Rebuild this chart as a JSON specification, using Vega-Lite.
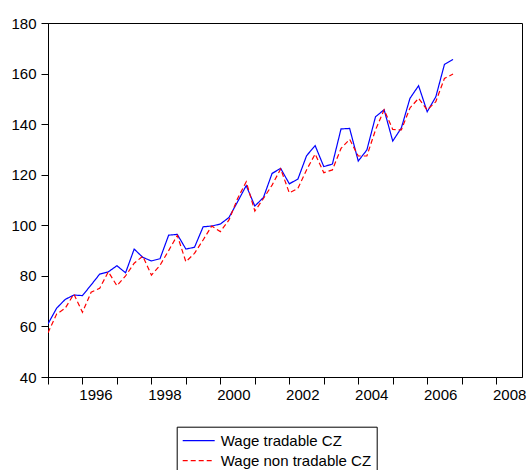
{
  "$schema": "https://vega.github.io/schema/vega-lite/v6.json",
  "width": 474,
  "height": 354,
  "autosize": "none",
  "padding": {"left": 48, "top": 23, "right": 7, "bottom": 93},
  "background": "white",
  "config": {
    "view": {"stroke": "black", "strokeWidth": 1},
    "font": "Liberation Sans",
    "axis": {"labelFont": "Liberation Sans", "labelFontSize": 15, "labelColor": "black", "domainColor": "black", "tickColor": "black", "grid": false, "title": null}
  },
  "data": {
    "values": [
      {"t": 1995.00, "Wage tradable CZ": 61.0, "Wage non tradable CZ": 57.5},
      {"t": 1995.25, "Wage tradable CZ": 67.2, "Wage non tradable CZ": 64.9},
      {"t": 1995.50, "Wage tradable CZ": 70.7, "Wage non tradable CZ": 67.2},
      {"t": 1995.75, "Wage tradable CZ": 72.4, "Wage non tradable CZ": 72.8},
      {"t": 1996.00, "Wage tradable CZ": 72.2, "Wage non tradable CZ": 65.6},
      {"t": 1996.25, "Wage tradable CZ": 76.4, "Wage non tradable CZ": 73.5},
      {"t": 1996.50, "Wage tradable CZ": 80.7, "Wage non tradable CZ": 75.1},
      {"t": 1996.75, "Wage tradable CZ": 81.6, "Wage non tradable CZ": 81.6},
      {"t": 1997.00, "Wage tradable CZ": 84.0, "Wage non tradable CZ": 76.1},
      {"t": 1997.25, "Wage tradable CZ": 81.2, "Wage non tradable CZ": 80.0},
      {"t": 1997.50, "Wage tradable CZ": 90.6, "Wage non tradable CZ": 85.0},
      {"t": 1997.75, "Wage tradable CZ": 87.3, "Wage non tradable CZ": 87.8},
      {"t": 1998.00, "Wage tradable CZ": 85.9, "Wage non tradable CZ": 80.3},
      {"t": 1998.25, "Wage tradable CZ": 86.8, "Wage non tradable CZ": 84.2},
      {"t": 1998.50, "Wage tradable CZ": 96.1, "Wage non tradable CZ": 90.0},
      {"t": 1998.75, "Wage tradable CZ": 96.4, "Wage non tradable CZ": 96.0},
      {"t": 1999.00, "Wage tradable CZ": 90.6, "Wage non tradable CZ": 85.6},
      {"t": 1999.25, "Wage tradable CZ": 91.3, "Wage non tradable CZ": 88.9},
      {"t": 1999.50, "Wage tradable CZ": 99.4, "Wage non tradable CZ": 94.2},
      {"t": 1999.75, "Wage tradable CZ": 99.7, "Wage non tradable CZ": 99.7},
      {"t": 2000.00, "Wage tradable CZ": 100.5, "Wage non tradable CZ": 97.5},
      {"t": 2000.25, "Wage tradable CZ": 103.1, "Wage non tradable CZ": 102.1},
      {"t": 2000.50, "Wage tradable CZ": 109.3, "Wage non tradable CZ": 110.6},
      {"t": 2000.75, "Wage tradable CZ": 115.7, "Wage non tradable CZ": 117.2},
      {"t": 2001.00, "Wage tradable CZ": 107.6, "Wage non tradable CZ": 105.6},
      {"t": 2001.25, "Wage tradable CZ": 111.0, "Wage non tradable CZ": 110.6},
      {"t": 2001.50, "Wage tradable CZ": 120.5, "Wage non tradable CZ": 115.9},
      {"t": 2001.75, "Wage tradable CZ": 122.5, "Wage non tradable CZ": 122.3},
      {"t": 2002.00, "Wage tradable CZ": 116.4, "Wage non tradable CZ": 112.8},
      {"t": 2002.25, "Wage tradable CZ": 118.3, "Wage non tradable CZ": 114.6},
      {"t": 2002.50, "Wage tradable CZ": 127.5, "Wage non tradable CZ": 121.9},
      {"t": 2002.75, "Wage tradable CZ": 131.5, "Wage non tradable CZ": 128.2},
      {"t": 2003.00, "Wage tradable CZ": 123.2, "Wage non tradable CZ": 120.8},
      {"t": 2003.25, "Wage tradable CZ": 124.2, "Wage non tradable CZ": 121.9},
      {"t": 2003.50, "Wage tradable CZ": 138.1, "Wage non tradable CZ": 130.4},
      {"t": 2003.75, "Wage tradable CZ": 138.3, "Wage non tradable CZ": 134.0},
      {"t": 2004.00, "Wage tradable CZ": 125.4, "Wage non tradable CZ": 127.4},
      {"t": 2004.25, "Wage tradable CZ": 129.8, "Wage non tradable CZ": 127.4},
      {"t": 2004.50, "Wage tradable CZ": 142.9, "Wage non tradable CZ": 137.7},
      {"t": 2004.75, "Wage tradable CZ": 145.7, "Wage non tradable CZ": 145.7},
      {"t": 2005.00, "Wage tradable CZ": 133.3, "Wage non tradable CZ": 137.9},
      {"t": 2005.25, "Wage tradable CZ": 138.5, "Wage non tradable CZ": 137.7},
      {"t": 2005.50, "Wage tradable CZ": 150.2, "Wage non tradable CZ": 146.4},
      {"t": 2005.75, "Wage tradable CZ": 155.2, "Wage non tradable CZ": 150.2},
      {"t": 2006.00, "Wage tradable CZ": 144.9, "Wage non tradable CZ": 145.6},
      {"t": 2006.25, "Wage tradable CZ": 150.8, "Wage non tradable CZ": 148.9},
      {"t": 2006.50, "Wage tradable CZ": 163.6, "Wage non tradable CZ": 158.1},
      {"t": 2006.75, "Wage tradable CZ": 165.6, "Wage non tradable CZ": 159.8}
    ]
  },
  "transform": [
    {"fold": ["Wage tradable CZ", "Wage non tradable CZ"], "as": ["series", "value"]}
  ],
  "mark": {"type": "line", "strokeWidth": 1.2, "clip": true},
  "encoding": {
    "x": {
      "field": "t",
      "type": "quantitative",
      "scale": {"domain": [1995, 2008.75], "nice": false, "zero": false},
      "axis": {
        "values": [1995, 1996, 1997, 1998, 1999, 2000, 2001, 2002, 2003, 2004, 2005, 2006, 2007, 2008],
        "labelExpr": "datum.value % 2 == 0 ? format(datum.value, 'd') : ''",
        "tickSize": 7,
        "labelPadding": 3,
        "labelOffset": 13,
        "labelFlush": false,
        "labelOverlap": false
      }
    },
    "y": {
      "field": "value",
      "type": "quantitative",
      "scale": {"domain": [40, 180], "nice": false, "zero": false},
      "axis": {
        "values": [40, 60, 80, 100, 120, 140, 160, 180],
        "tickSize": 7,
        "labelPadding": 5
      }
    },
    "color": {
      "field": "series",
      "type": "nominal",
      "scale": {"domain": ["Wage tradable CZ", "Wage non tradable CZ"], "range": ["#0000FF", "#FF0000"]},
      "legend": {
        "title": null,
        "orient": "none",
        "legendX": 128.7,
        "legendY": 403.7,
        "strokeColor": "black",
        "fillColor": "white",
        "padding": 5,
        "labelFont": "Liberation Sans",
        "labelFontSize": 15,
        "labelColor": "black",
        "symbolType": "M-1,0H3",
        "symbolSize": 256,
        "symbolStrokeWidth": 1.2,
        "rowPadding": 3,
        "labelOffset": 21
      }
    },
    "strokeDash": {
      "field": "series",
      "type": "nominal",
      "scale": {"domain": ["Wage tradable CZ", "Wage non tradable CZ"], "range": [[1, 0], [5, 3]]},
      "legend": null
    }
  }
}
